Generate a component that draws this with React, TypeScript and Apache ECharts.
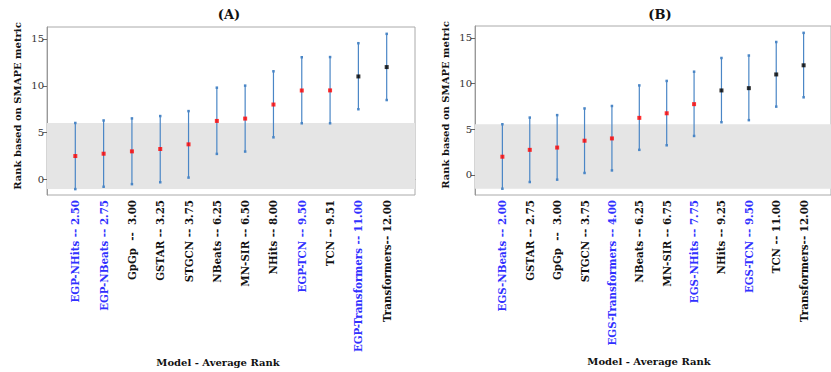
import React, { useEffect, useRef } from "react";
import * as echarts from "echarts";

const labelsA = [
  "EGP-NHits -- 2.50",
  "EGP-NBeats -- 2.75",
  "GpGp  --  3.00",
  "GSTAR -- 3.25",
  "STGCN -- 3.75",
  "NBeats -- 6.25",
  "MN-SIR -- 6.50",
  "NHits -- 8.00",
  "EGP-TCN -- 9.50",
  "TCN -- 9.51",
  "EGP-Transformers -- 11.00",
  "Transformers-- 12.00",
];
const meanA = [2.5, 2.75, 3.0, 3.25, 3.75, 6.25, 6.5, 8.0, 9.5, 9.51, 11.0, 12.0];
const lowA = [-1.03, -0.78, -0.5, -0.3, 0.2, 2.73, 2.98, 4.5, 6.0, 6.0, 7.5, 8.48];
const highA = [6.03, 6.3, 6.52, 6.77, 7.3, 9.8, 10.02, 11.55, 13.05, 13.07, 14.55, 15.55];
const markerColorA = ["red", "red", "red", "red", "red", "red", "red", "red", "red", "red", "black", "black"];
const bandA = [-1.03, 6.03];

const labelsB = [
  "EGS-NBeats -- 2.00",
  "GSTAR -- 2.75",
  "GpGp  --  3.00",
  "STGCN -- 3.75",
  "EGS-Transformers -- 4.00",
  "NBeats -- 6.25",
  "MN-SIR -- 6.75",
  "EGS-NHits -- 7.75",
  "NHits -- 9.25",
  "EGS-TCN -- 9.50",
  "TCN -- 11.00",
  "Transformers-- 12.00",
];
const meanB = [2.0, 2.75, 3.0, 3.75, 4.0, 6.25, 6.75, 7.75, 9.25, 9.5, 11.0, 12.0];
const lowB = [-1.5, -0.77, -0.51, 0.22, 0.5, 2.75, 3.25, 4.27, 5.77, 6.0, 7.48, 8.5];
const highB = [5.55, 6.28, 6.55, 7.28, 7.55, 9.8, 10.29, 11.3, 12.8, 13.07, 14.55, 15.55];
const markerColorB = ["red", "red", "red", "red", "red", "red", "red", "red", "black", "black", "black", "black"];
const bandB = [-1.5, 5.55];

const yTicks = [0, 5, 10, 15];

const FONT = "'DejaVu Serif', serif";
const BAR_COLOR = "#4a86c6";
const BLUE_LABEL = "#3030ff";

function isProposed(label: string) {
  return label.startsWith("EGP") || label.startsWith("EGS");
}

function buildPanel(
  idx: number,
  labels: string[],
  mean: number[],
  low: number[],
  high: number[],
  markerColors: string[],
  band: number[]
) {
  const cats = ["", ...labels, ""];
  const xAxis = {
    type: "category",
    gridIndex: idx,
    data: cats,
    boundaryGap: false,
    axisLine: { show: true, lineStyle: { color: "#999", width: 1 } },
    axisTick: {
      show: true,
      length: 4,
      interval: (i: number) => i > 0 && i < cats.length - 1,
      lineStyle: { color: "#555" },
    },
    axisLabel: {
      interval: (i: number) => i > 0 && i < cats.length - 1,
      rotate: 90,
      margin: 5,
      fontFamily: FONT,
      fontWeight: "bold",
      fontSize: 10.3,
      color: (v: string) => (isProposed(v) ? BLUE_LABEL : "#111"),
    },
    splitLine: { show: false },
  };
  const yAxis = {
    type: "value",
    gridIndex: idx,
    min: idx === 0 ? -1.66 : -2.19,
    max: idx === 0 ? 16.28 : 16.3,
    axisLine: { show: true, lineStyle: { color: "#999" } },
    axisTick: { show: true, length: 4, customValues: yTicks, lineStyle: { color: "#666" } },
    axisLabel: {
      customValues: yTicks,
      fontFamily: FONT,
      fontSize: 10,
      color: "#333",
      margin: 3,
    },
    splitLine: { show: false },
  };
  const bandSeries = {
    type: "line",
    xAxisIndex: idx,
    yAxisIndex: idx,
    data: [],
    z: 1,
    silent: true,
    markArea: {
      silent: true,
      itemStyle: { color: "#e5e5e5" },
      data: [[{ yAxis: band[0] }, { yAxis: band[1] }]],
    },
  };
  const barData = labels.map((_, i) => [i + 1, low[i], high[i]]);
  const barSeries = {
    type: "custom",
    xAxisIndex: idx,
    yAxisIndex: idx,
    z: 2,
    data: barData,
    renderItem: (params: any, api: any) => {
      const x = api.value(0);
      const p1 = api.coord([x, api.value(1)]);
      const p2 = api.coord([x, api.value(2)]);
      return {
        type: "group",
        children: [
          {
            type: "line",
            shape: { x1: p1[0], y1: p1[1], x2: p2[0], y2: p2[1] },
            style: { stroke: BAR_COLOR, lineWidth: 1.2 },
          },
          {
            type: "rect",
            shape: { x: p1[0] - 1.25, y: p1[1] - 1.25, width: 2.5, height: 2.5 },
            style: { fill: BAR_COLOR },
          },
          {
            type: "rect",
            shape: { x: p2[0] - 1.25, y: p2[1] - 1.25, width: 2.5, height: 2.5 },
            style: { fill: BAR_COLOR },
          },
        ],
      };
    },
  };
  const meanSeries = {
    type: "scatter",
    xAxisIndex: idx,
    yAxisIndex: idx,
    z: 3,
    symbol: "rect",
    symbolSize: 4,
    data: mean.map((m, i) => ({
      value: [i + 1, m],
      itemStyle: { color: markerColors[i] },
    })),
  };
  return { xAxis, yAxis, series: [bandSeries, barSeries, meanSeries] };
}

export default function App() {
  const ref = useRef<HTMLDivElement>(null);
  useEffect(() => {
    document.body.style.margin = "0";
    if (!ref.current) return;
    const chart = echarts.init(ref.current, null, { renderer: "svg" });
    const pA = buildPanel(0, labelsA, meanA, lowA, highA, markerColorA, bandA);
    const pB = buildPanel(1, labelsB, meanB, lowB, highB, markerColorB, bandB);
    const titleFont = `bold 13px ${FONT}`;
    const nameFont = `bold 10px ${FONT}`;
    chart.setOption({
      animation: false,
      backgroundColor: "#fff",
      grid: [
        { left: 47, top: 27, width: 368, height: 168, show: true, borderColor: "#aaa", borderWidth: 1, backgroundColor: "transparent" },
        { left: 475, top: 26, width: 369, height: 169, show: true, borderColor: "#aaa", borderWidth: 1, backgroundColor: "transparent" },
      ],
      xAxis: [pA.xAxis, pB.xAxis],
      yAxis: [pA.yAxis, pB.yAxis],
      series: [...pA.series, ...pB.series],
      graphic: [
        { type: "text", x: 229, y: 14, style: { text: "(A)", font: titleFont, fill: "#111", align: "center", verticalAlign: "middle" } },
        { type: "text", x: 660, y: 14, style: { text: "(B)", font: titleFont, fill: "#111", align: "center", verticalAlign: "middle" } },
        { type: "text", x: 218, y: 362, style: { text: "Model - Average Rank", font: nameFont, fill: "#111", align: "center", verticalAlign: "middle" } },
        { type: "text", x: 649, y: 361, style: { text: "Model - Average Rank", font: nameFont, fill: "#111", align: "center", verticalAlign: "middle" } },
        { type: "text", x: 17, y: 106, rotation: Math.PI / 2, style: { text: "Rank based on SMAPE metric", font: nameFont, fill: "#111", align: "center", verticalAlign: "middle" } },
        { type: "text", x: 445, y: 105, rotation: Math.PI / 2, style: { text: "Rank based on SMAPE metric", font: nameFont, fill: "#111", align: "center", verticalAlign: "middle" } },
      ],
    });
    return () => chart.dispose();
  }, []);
  return <div ref={ref} style={{ width: 831, height: 372 }} />;
}
